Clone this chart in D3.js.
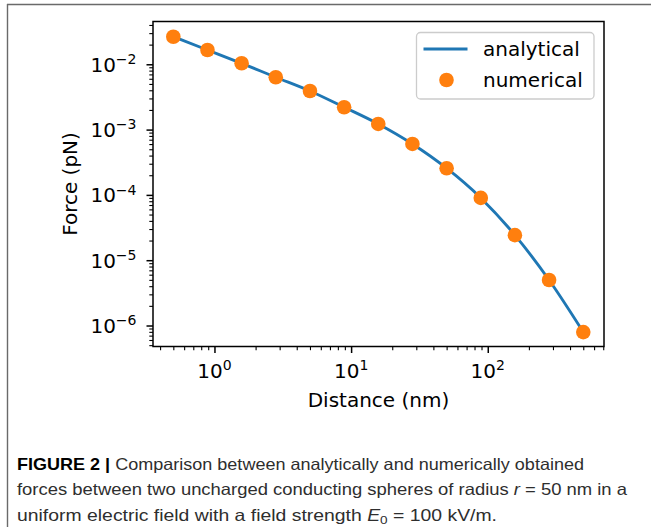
<!DOCTYPE html>
<html>
<head>
<meta charset="utf-8">
<script src="https://cdn.jsdelivr.net/npm/d3@7"></script>
<style>
  html, body { margin: 0; padding: 0; background: #fff; }
  svg { display: block; }
</style>
</head>
<body>
<svg id="chart" width="651" height="527"></svg>
<script>
// ---- data ----
const distances = [0.5, 0.889, 1.58, 2.81, 5, 8.89, 15.8, 28.1, 50, 88.9, 158, 281, 500];
const numericalForce = [0.0264, 0.01656, 0.01036, 0.00633, 0.0039, 0.0022, 0.00122, 0.000603, 0.000256, 8.99e-5, 2.42e-5, 4.97e-6, 7.93e-7];
const analyticalForce = [0.0264, 0.01656, 0.01036, 0.00633, 0.0039, 0.0022, 0.00122, 0.000603, 0.000256, 8.99e-5, 2.42e-5, 4.97e-6, 7.93e-7];
const xMajorTicks = [1, 10, 100];
const xMajorExp = ["0", "1", "2"];
const yMajorTicks = [1e-6, 1e-5, 1e-4, 1e-3, 1e-2];
const yMajorExp = ["−6", "−5", "−4", "−3", "−2"];
const legendLabels = ["analytical", "numerical"];
const xLabel = "Distance (nm)";
const yLabel = "Force (pN)";
const captionLines = [
  {bold: "FIGURE 2 |", text: " Comparison between analytically and numerically obtained", width: 567},
  {text: "forces between two uncharged conducting spheres of radius ", ital: "r", rest: " = 50 nm in a", width: 610},
  {text: "uniform electric field with a field strength ", ital: "E", sub: "0", rest: " = 100 kV/m.", width: 480}
];

const svg = d3.select("#chart");
const L = 153, R = 604, T = 21.5, B = 346.5;
const font = "'DejaVu Sans', sans-serif";

// frame
svg.append("line").attr("x1", 7).attr("x2", 651).attr("y1", 4.5).attr("y2", 4.5)
  .attr("stroke", "#6a6a6a").attr("stroke-width", 1.4);
svg.append("line").attr("x1", 7.5).attr("x2", 7.5).attr("y1", 4).attr("y2", 527)
  .attr("stroke", "#6a6a6a").attr("stroke-width", 1.4);

const x = d3.scaleLog().domain([0.355, 709]).range([L, R]);
const y = d3.scaleLog().domain([4.77e-7, 0.0452]).range([B, T]);

function minorTicks(scale) {
  const [a, b] = scale.domain();
  const out = [];
  for (let e = Math.floor(Math.log10(a)); e <= Math.ceil(Math.log10(b)); e++) {
    for (let m = 2; m <= 9; m++) {
      const v = m * Math.pow(10, e);
      if (v >= a && v <= b) out.push(v);
    }
  }
  return out;
}

const g = svg.append("g");

// minor ticks
g.append("g").attr("transform", `translate(0,${B})`)
  .call(d3.axisBottom(x).tickValues(minorTicks(x)).tickSize(3.7).tickFormat(""))
  .call(s => s.select(".domain").remove())
  .call(s => s.selectAll("line").attr("stroke", "#000").attr("stroke-width", 1.1));
g.append("g").attr("transform", `translate(${L},0)`)
  .call(d3.axisLeft(y).tickValues(minorTicks(y)).tickSize(3.7).tickFormat(""))
  .call(s => s.select(".domain").remove())
  .call(s => s.selectAll("line").attr("stroke", "#000").attr("stroke-width", 1.1));

// major ticks
g.append("g").attr("transform", `translate(0,${B})`)
  .call(d3.axisBottom(x).tickValues(xMajorTicks).tickSize(6.5).tickFormat(""))
  .call(s => s.select(".domain").remove())
  .call(s => s.selectAll("line").attr("stroke", "#000").attr("stroke-width", 1.5));
g.append("g").attr("transform", `translate(${L},0)`)
  .call(d3.axisLeft(y).tickValues(yMajorTicks).tickSize(6.5).tickFormat(""))
  .call(s => s.select(".domain").remove())
  .call(s => s.selectAll("line").attr("stroke", "#000").attr("stroke-width", 1.5));

// tick labels
xMajorTicks.forEach((v, i) => {
  const t = svg.append("text").attr("x", x(v)).attr("y", 378)
    .attr("text-anchor", "middle").attr("font-family", font).attr("font-size", 20).attr("fill", "#000");
  t.append("tspan").text("10");
  t.append("tspan").attr("font-size", 14).attr("dy", -8).text(xMajorExp[i]);
});
yMajorTicks.forEach((v, i) => {
  const t = svg.append("text").attr("x", 136.5).attr("y", y(v) + 7.3)
    .attr("text-anchor", "end").attr("font-family", font).attr("font-size", 20).attr("fill", "#000");
  t.append("tspan").text("10");
  t.append("tspan").attr("font-size", 14).attr("dy", -7.5).text(yMajorExp[i]);
});

// axis labels
svg.append("text").attr("x", (L + R) / 2).attr("y", 407)
  .attr("text-anchor", "middle").attr("font-family", font).attr("font-size", 20).text(xLabel);
svg.append("text").attr("transform", `translate(76.5,${(T + B) / 2}) rotate(-90)`)
  .attr("text-anchor", "middle").attr("font-family", font).attr("font-size", 20).text(yLabel);

// data
const line = d3.line().x((d, i) => x(distances[i])).y(d => y(d)).curve(d3.curveMonotoneX);
svg.append("path").datum(analyticalForce).attr("d", line)
  .attr("fill", "none").attr("stroke", "#1f77b4").attr("stroke-width", 2.9);
svg.append("g").selectAll("circle").data(numericalForce).join("circle")
  .attr("cx", (d, i) => x(distances[i])).attr("cy", d => y(d)).attr("r", 7.3)
  .attr("fill", "#ff7f0e");

// spines
svg.append("rect").attr("x", L).attr("y", T).attr("width", R - L).attr("height", B - T)
  .attr("fill", "none").attr("stroke", "#000").attr("stroke-width", 1.5);

// legend
const lg = svg.append("g");
lg.append("rect").attr("x", 416.5).attr("y", 32.5).attr("width", 177.5).attr("height", 66.5)
  .attr("rx", 4).attr("fill", "#fff").attr("fill-opacity", 0.8).attr("stroke", "#cccccc").attr("stroke-width", 1.3);
lg.append("line").attr("x1", 423.5).attr("x2", 467.5).attr("y1", 49).attr("y2", 49)
  .attr("stroke", "#1f77b4").attr("stroke-width", 2.9);
lg.append("circle").attr("cx", 446.5).attr("cy", 80).attr("r", 7.3).attr("fill", "#ff7f0e");
lg.append("text").attr("x", 483).attr("y", 56).attr("font-family", font).attr("font-size", 20).text(legendLabels[0]);
lg.append("text").attr("x", 483).attr("y", 86.5).attr("font-family", font).attr("font-size", 20).text(legendLabels[1]);

// caption
const capFont = "'Liberation Sans Narrow', 'Liberation Sans', Arial, sans-serif";
const baselines = [469.5, 495, 520.5];
captionLines.forEach((ln, i) => {
  const t = svg.append("text").attr("x", 17).attr("y", baselines[i])
    .attr("font-family", capFont).attr("font-size", 16.5).attr("fill", "#2e2e2e")
    .attr("textLength", ln.width).attr("lengthAdjust", "spacingAndGlyphs");
  if (ln.bold) t.append("tspan").attr("font-weight", "bold").attr("fill", "#000").text(ln.bold);
  t.append("tspan").text(ln.text);
  if (ln.ital) t.append("tspan").attr("font-style", "italic").text(ln.ital);
  if (ln.sub) t.append("tspan").attr("font-size", 11.5).attr("dy", 3).text(ln.sub);
  if (ln.rest) t.append("tspan").attr("dy", ln.sub ? -3 : 0).text(ln.rest);
});
</script>
</body>
</html>
